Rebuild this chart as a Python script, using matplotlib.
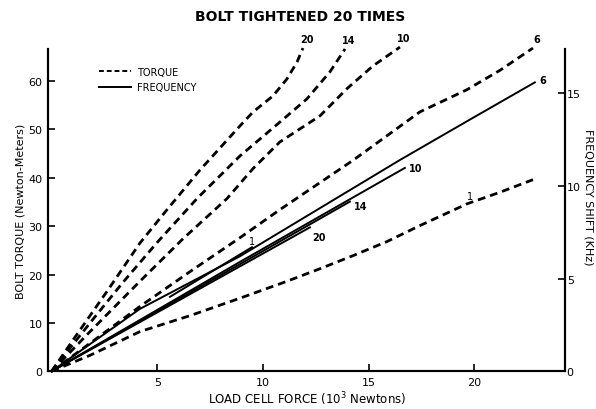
import matplotlib
matplotlib.use("Agg")
import matplotlib.pyplot as plt
from matplotlib.lines import Line2D

plt.rcParams.update({
    "font.family": "DejaVu Sans",
    "font.size": 8,
})

# Torque curves (left axis, Newton-Meters) vs load (10^3 N), label = tightening no.
torque_20_x = [0, 1.02, 2.62, 4.18, 5.46, 7.02, 8.91, 9.53, 10.47, 11.13, 11.61, 11.89]
torque_20_y = [0, 6.5, 16.5, 26.5, 33.4, 41.6, 50.7, 53.6, 56.9, 60.4, 63.9, 66.8]
torque_14_x = [0, 1.82, 3.38, 4.99, 6.88, 8.91, 10.80, 12.08, 13.17, 13.88]
torque_14_y = [0, 10.0, 18.4, 26.6, 35.7, 44.5, 51.5, 56.3, 61.9, 66.6]
torque_10_x = [0, 1.82, 4.18, 6.22, 8.30, 9.53, 10.80, 12.70, 13.97, 15.20, 16.48]
torque_10_y = [0, 8.2, 18.6, 27.4, 35.7, 41.9, 47.4, 52.8, 58.4, 63.1, 67.0]
torque_6_x = [0, 1.82, 4.18, 6.55, 8.91, 10.80, 14.26, 17.42, 19.65, 21.21, 22.77]
torque_6_y = [0, 5.8, 13.4, 20.6, 27.6, 33.4, 43.6, 53.6, 58.2, 62.2, 66.8]
torque_1_x = [0, 1.82, 4.18, 6.55, 8.91, 11.13, 12.70, 14.26, 15.86, 17.42, 19.65, 21.21, 22.77]
torque_1_y = [0, 3.3, 8.2, 11.5, 15.1, 18.6, 21.2, 23.9, 26.8, 30.1, 34.6, 37.0, 39.6]

# Frequency shift lines (right axis, KHz)
freq_6_x = [0, 4.18, 8.91, 16.48, 19.65, 22.86]
freq_6_y = [0, 3.37, 6.21, 11.41, 13.5, 15.6]
freq_10_x = [0, 8.9, 16.71]
freq_10_y = [0, 5.9, 10.98]
freq_14_x = [0, 14.11]
freq_14_y = [0, 9.16]
freq_20_x = [0, 12.22]
freq_20_y = [0, 7.77]
freq_1_x = [5.60, 9.48]
freq_1_y = [4.02, 6.70]

left_ticks = [0, 10, 20, 30, 40, 50, 60]
right_ticks = [0, 5, 10, 15]
x_ticks = [5, 10, 15, 20]

fig = plt.figure(figsize=(5.96, 4.10), dpi=100)
ax = fig.add_axes([0.0805, 0.092, 0.868, 0.786])
ax2 = ax.twinx()

dash = dict(color="black", lw=2.0, dashes=(2.8, 1.8), clip_on=False, solid_capstyle="butt")
solid = dict(color="black", lw=1.4, clip_on=False)

torque = [("20", torque_20_x, torque_20_y), ("14", torque_14_x, torque_14_y),
          ("10", torque_10_x, torque_10_y), ("6", torque_6_x, torque_6_y)]
for lab, xs, ys in torque:
    ax.plot(xs, ys, **dash)
    ax.annotate(lab, (xs[-1], ys[-1]), xytext=(3, 3), textcoords="offset points",
                ha="center", va="bottom", fontsize=7, fontweight="bold",
                annotation_clip=False)
ax.plot(torque_1_x, torque_1_y, **dash)
ax.annotate("1", (torque_1_x[10], torque_1_y[10]), xytext=(2, 2), textcoords="offset points",
            ha="center", va="bottom", fontsize=7, annotation_clip=False)

freq = [("6", freq_6_x, freq_6_y, (3, 2), "center"),
        ("10", freq_10_x, freq_10_y, (3, 0), "center"),
        ("14", freq_14_x, freq_14_y, (3, -3), "center"),
        ("20", freq_20_x, freq_20_y, (2, -3), "top")]
for lab, xs, ys, off, va in freq:
    ax2.plot(xs, ys, **solid)
    ax2.annotate(lab, (xs[-1], ys[-1]), xytext=off, textcoords="offset points",
                 ha="left", va=va, fontsize=7, fontweight="bold",
                 annotation_clip=False)
ax2.plot(freq_1_x, freq_1_y, **solid)
ax2.annotate("1", (freq_1_x[-1], freq_1_y[-1]), xytext=(0, 1), textcoords="offset points",
             ha="center", va="bottom", fontsize=7, annotation_clip=False)

ax.set_xlim(-0.17, 24.3)
ax.set_ylim(0, 66.6)
ax2.set_ylim(0, 17.4)

ax.set_xticks(x_ticks)
ax.set_yticks(left_ticks)
ax2.set_yticks(right_ticks)
ax.tick_params(direction="in", length=5, width=1.2, labelsize=8, pad=4)
ax2.tick_params(direction="in", length=5, width=1.2, labelsize=8, pad=1)

for a in (ax, ax2):
    a.spines["top"].set_visible(False)
    for s in ("left", "bottom", "right"):
        a.spines[s].set_linewidth(1.5)

ax.set_xlabel("LOAD CELL FORCE (10$^3$ Newtons)", fontsize=8.5, labelpad=2)
ax.set_ylabel("BOLT TORQUE (Newton-Meters)", fontsize=8, labelpad=2)
fig.text(0.988, 0.52, "FREQUENCY SHIFT (KHz)", rotation=270, ha="center", va="center",
         fontsize=8)
fig.text(0.503, 0.958, "BOLT TIGHTENED 20 TIMES", ha="center", va="center",
         fontsize=10, fontweight="bold")

handles = [Line2D([], [], color="black", lw=1.4, dashes=(2.5, 1.5)),
           Line2D([], [], color="black", lw=1.4)]
ax.legend(handles, ["TORQUE", "FREQUENCY"], loc="upper left", bbox_to_anchor=(0.09, 0.96),
          frameon=False, fontsize=7, handlelength=3.3, handletextpad=0.6,
          labelspacing=0.55, borderpad=0)

fig.savefig("out.png", dpi=100)
